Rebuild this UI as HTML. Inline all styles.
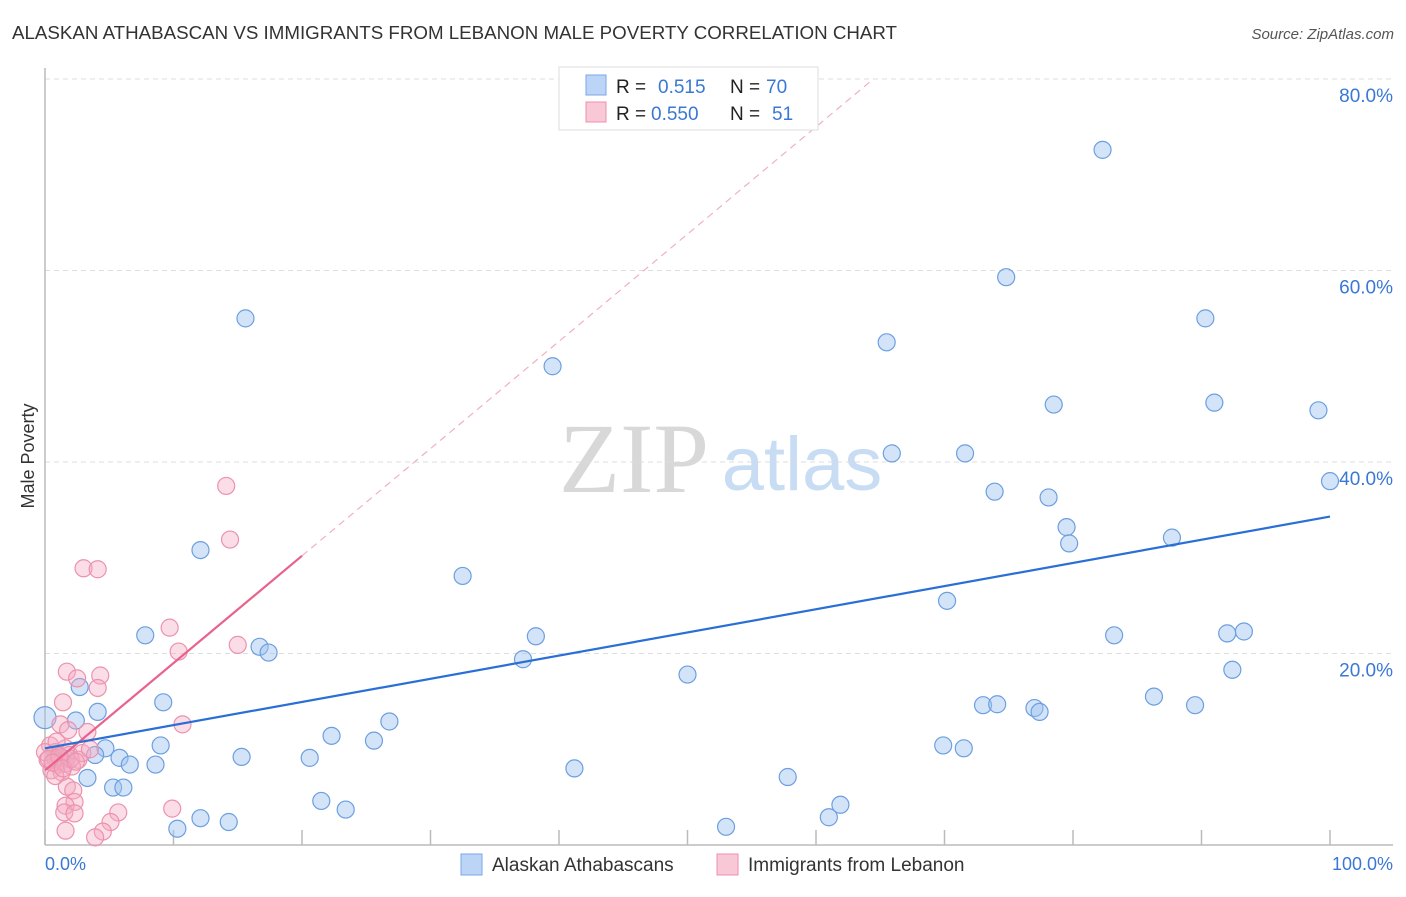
<!DOCTYPE html>
<html><head><meta charset="utf-8"><style>
body{margin:0;background:#fff;font-family:"Liberation Sans",sans-serif;}
</style></head><body>
<svg width="1406" height="892" viewBox="0 0 1406 892" font-family="Liberation Sans, sans-serif">
<text x="12" y="39" font-size="18" fill="#333" textLength="885" lengthAdjust="spacingAndGlyphs">ALASKAN ATHABASCAN VS IMMIGRANTS FROM LEBANON MALE POVERTY CORRELATION CHART</text>
<text x="1394" y="39" font-size="15" fill="#555" font-style="italic" text-anchor="end">Source: ZipAtlas.com</text>
<text transform="translate(34,456) rotate(-90)" font-size="18" fill="#333" text-anchor="middle">Male Poverty</text>
<g>
<text x="634" y="492" font-size="100" fill="#d8d8d8" style="font-family:'Liberation Serif',serif" text-anchor="middle">ZIP</text>
<text x="802" y="490" font-size="76" fill="#c8dcf3" text-anchor="middle">atlas</text>
</g>
<g id="grid"></g>
<line x1="45" y1="68" x2="45" y2="845" stroke="#bbb" stroke-width="1.5"/>
<line x1="45" y1="845" x2="1393" y2="845" stroke="#bbb" stroke-width="1.5"/>
<g id="ticks"></g>
<text x="45" y="870" font-size="18" fill="#3a78d4">0.0%</text>
<text x="1393" y="870" font-size="18" fill="#3a78d4" text-anchor="end">100.0%</text>
<g id="pts"></g>
<g id="lines"></g>
<g>
<rect x="559" y="67" width="259" height="63" fill="#fff" stroke="#ddd"/>
<rect x="586" y="75" width="20" height="20" fill="#bcd4f5" stroke="#7aa7e6"/>
<text x="616" y="93" font-size="19" fill="#222">R =</text>
<text x="658" y="93" font-size="19" fill="#3a78d4">0.515</text>
<text x="730" y="93" font-size="19" fill="#222">N =</text>
<text x="766" y="93" font-size="19" fill="#3a78d4">70</text>
<rect x="586" y="102" width="20" height="20" fill="#f8c8d6" stroke="#ec92ad"/>
<text x="616" y="120" font-size="19" fill="#222">R =</text>
<text x="651" y="120" font-size="19" fill="#3a78d4">0.550</text>
<text x="730" y="120" font-size="19" fill="#222">N =</text>
<text x="772" y="120" font-size="19" fill="#3a78d4">51</text>
</g>
<g>
<rect x="461" y="854" width="21" height="21" fill="#bcd4f5" stroke="#7aa7e6"/>
<text x="492" y="871" font-size="19" fill="#333">Alaskan Athabascans</text>
<rect x="717" y="854" width="21" height="21" fill="#f8c8d6" stroke="#ec92ad"/>
<text x="748" y="871" font-size="19" fill="#333">Immigrants from Lebanon</text>
</g>
</svg>
<script>
const yTicks=[20,40,60,80];
const xTicks=[0,10,20,30,40,50,60,70,80,90,100];
const blueX=[15.6,82.3,74.8,90.3,65.5,39.5,78.5,91.0,99.1,65.9,71.6,100,73.9,78.1,79.5,79.7,87.7,12.1,32.5,70.2,7.8,38.2,83.2,92.0,93.3,16.7,17.4,37.2,50.0,92.4,2.7,9.2,86.3,89.5,73.0,74.1,77.0,77.4,4.1,0,2.4,26.8,22.3,9.0,25.6,69.9,71.5,4.7,15.3,20.6,3.9,5.8,6.6,8.6,1.6,41.2,3.3,57.8,5.3,6.1,21.5,61.9,23.4,12.1,14.3,61.0,10.3,53.0,0.8,1.2];
const blueY=[55.0,72.6,59.3,55.0,52.5,50.0,46.0,46.2,45.4,40.9,40.9,38.0,36.9,36.3,33.2,31.5,32.1,30.8,28.1,25.5,21.9,21.8,21.9,22.1,22.3,20.7,20.1,19.4,17.8,18.3,16.5,14.9,15.5,14.6,14.6,14.7,14.3,13.9,13.9,13.3,13.0,12.9,11.4,10.4,10.9,10.4,10.1,10.1,9.2,9.1,9.4,9.1,8.4,8.4,9.0,8.0,7.0,7.1,6.0,6.0,4.6,4.2,3.7,2.8,2.4,2.9,1.7,1.9,9.1,8.8];
const pinkX=[14.1,14.4,3.0,4.1,9.7,15.0,10.4,1.7,4.3,2.5,4.1,1.4,10.7,1.2,1.8,3.3,1.7,2.2,2.3,1.6,1.5,2.3,5.7,9.9,5.1,4.5,1.6,3.9,0.4,0.8,1.2,1.6,1.0,1.9,0.5,1.3,2.6,0.2,0.9,1.6,0.8,0,2.1,0.3,1.1,2.0,2.9,0.6,1.4,2.4,3.5];
const pinkY=[37.5,31.9,28.9,28.8,22.7,20.9,20.2,18.1,17.7,17.4,16.4,14.9,12.6,12.6,12.0,11.8,6.1,5.7,4.5,4.1,3.4,3.3,3.4,3.8,2.4,1.4,1.5,0.8,10.4,9.7,9.1,10.1,8.4,9.4,7.8,7.6,8.9,8.9,10.8,8.5,7.2,9.7,8.2,9.0,9.3,9.0,9.6,8.6,8.0,8.7,10.0];
const blueTrend=[0,10.1,100,34.3];
const pinkTrend=[0,7.8,20,30.2];
const NS='http://www.w3.org/2000/svg';
const sx=v=>45+v*12.85, sy=v=>845-v*9.575;
function mk(t,a,p){const e=document.createElementNS(NS,t);for(const k in a)e.setAttribute(k,a[k]);p.appendChild(e);return e;}
const grid=document.getElementById('grid');
yTicks.forEach(t=>{
 const l=mk('line',{x1:45,x2:1393,y1:sy(t),y2:sy(t),stroke:'#ddd','stroke-dasharray':'5,4'},grid);
 
 
 const tx=mk('text',{x:1393,y:sy(t)+23,'font-size':19,fill:'#3a78d4','text-anchor':'end'},grid);
 tx.textContent=t.toFixed(1)+'%';
 
 
});
const tk=document.getElementById('ticks');
xTicks.forEach(t=>{
 const l=mk('line',{x1:sx(t),x2:sx(t),y1:830,y2:845,stroke:'#bbb','stroke-width':1.5},tk);
 
 
});
const pts=document.getElementById('pts');
blueX.forEach((x,i)=>{
 const c=mk('circle',{cx:sx(x),cy:sy(blueY[i]),r:x===0?11:8.5,fill:'rgba(160,195,240,0.45)',stroke:'#6c9fe0','stroke-width':1.2},pts);
 
 
});
pinkX.forEach((x,i)=>{
 const c=mk('circle',{cx:sx(x),cy:sy(pinkY[i]),r:8.5,fill:'rgba(245,170,195,0.4)',stroke:'#ec92ad','stroke-width':1.2},pts);
 
 
});
const ln=document.getElementById('lines');
const ps=(pinkTrend[3]-pinkTrend[1])/(pinkTrend[2]-pinkTrend[0]);
const xe=(80-pinkTrend[1])/ps;
const d=mk('line',{x1:sx(pinkTrend[2]),y1:sy(pinkTrend[3]),x2:sx(xe),y2:sy(80),stroke:'#f0b0c2','stroke-width':1.2,'stroke-dasharray':'7,5'},ln);


const pl=mk('line',{x1:sx(pinkTrend[0]),y1:sy(pinkTrend[1]),x2:sx(pinkTrend[2]),y2:sy(pinkTrend[3]),stroke:'#e8628c','stroke-width':2.2},ln);


const bl=mk('line',{x1:sx(blueTrend[0]),y1:sy(blueTrend[1]),x2:sx(blueTrend[2]),y2:sy(blueTrend[3]),stroke:'#2a6fd6','stroke-width':2.2},ln);


</script>
</body></html>
